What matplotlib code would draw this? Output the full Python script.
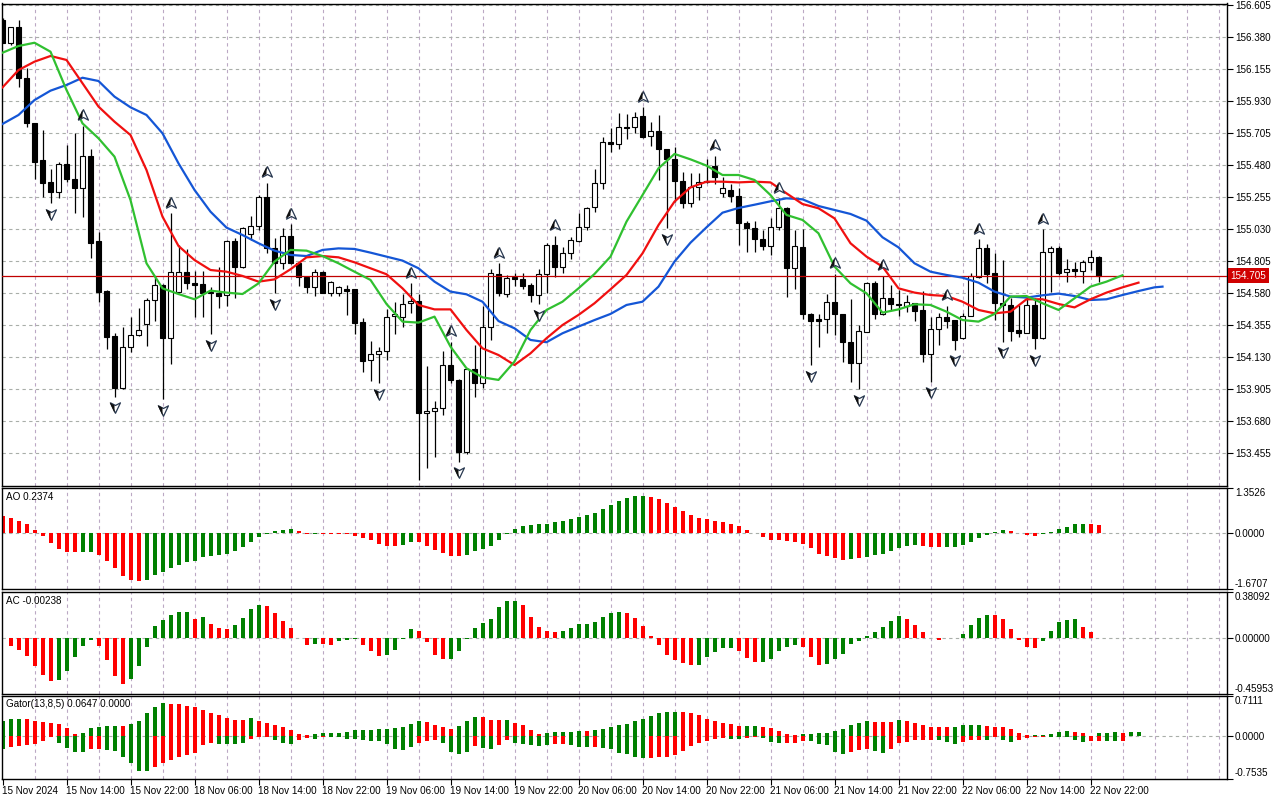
import matplotlib
matplotlib.use("Agg")
import matplotlib.pyplot as plt
import matplotlib.transforms as mtransforms
from matplotlib.path import Path

plt.rcParams['font.family'] = ['Liberation Sans', 'DejaVu Sans']
FS = 7.1

# ---------------- data ----------------
time_labels = ["15 Nov 2024", "15 Nov 14:00", "15 Nov 22:00", "18 Nov 06:00", "18 Nov 14:00",
               "18 Nov 22:00", "19 Nov 06:00", "19 Nov 14:00", "19 Nov 22:00", "20 Nov 06:00",
               "20 Nov 14:00", "20 Nov 22:00", "21 Nov 06:00", "21 Nov 14:00", "21 Nov 22:00",
               "22 Nov 06:00", "22 Nov 14:00", "22 Nov 22:00"]
label_bars = list(range(0, 137, 8))

opens = [156.502, 156.342, 156.450, 156.092, 155.775, 155.518, 155.360, 155.295, 155.487, 155.384,
         155.318, 155.546, 154.948, 154.596, 154.280, 153.912, 154.205, 154.287, 154.364, 154.533,
         154.639, 154.264, 154.587, 154.728, 154.650, 154.643, 154.589, 154.580, 154.568, 154.946,
         154.768, 154.995, 155.053, 155.260, 154.896, 154.791, 154.985, 154.791, 154.692, 154.622,
         154.732, 154.585, 154.580, 154.608, 154.608, 154.376, 154.111, 154.153, 154.174, 154.421,
         154.416, 154.510, 154.526, 153.741, 153.755, 153.771, 154.076, 153.971, 153.467, 154.046,
         153.952, 154.346, 154.716, 154.575, 154.692, 154.681, 154.639, 154.568, 154.714, 154.920,
         154.768, 154.861, 154.950, 155.049, 155.185, 155.353, 155.646, 155.630, 155.752, 155.752,
         155.829, 155.686, 155.724, 155.592, 155.522, 155.372, 155.213, 155.330, 155.360, 155.478,
         155.288, 155.307, 155.267, 155.072, 155.037, 154.960, 154.915, 155.049, 155.178, 154.756,
         154.903, 154.435, 154.397, 154.397, 154.521, 154.432, 154.240, 154.092, 154.310, 154.650,
         154.432, 154.545, 154.505, 154.493, 154.510, 154.463, 154.151, 154.327, 154.411, 154.392,
         154.264, 154.421, 154.697, 154.896, 154.721, 154.510, 154.498, 154.322, 154.303, 154.498,
         154.268, 154.868, 154.896, 154.728, 154.749, 154.737, 154.798, 154.833]
highs = [156.514, 156.455, 156.502, 156.162, 155.775, 155.728, 155.452, 155.501, 155.621, 155.710,
         155.757, 155.592, 155.009, 154.603, 154.303, 154.341, 154.416, 154.474, 154.549, 154.697,
         154.645, 155.142, 154.920, 154.892, 154.739, 154.737, 154.627, 154.768, 154.955, 154.967,
         155.049, 155.124, 155.271, 155.358, 154.971, 155.042, 155.067, 154.795, 154.695, 154.749,
         154.735, 154.667, 154.632, 154.639, 154.612, 154.404, 154.247, 154.205, 154.467, 154.517,
         154.575, 154.650, 154.573, 154.069, 153.823, 154.177, 154.240, 153.975, 154.053, 154.217,
         154.491, 154.749, 154.791, 154.709, 154.725, 154.721, 154.655, 154.749, 154.936, 154.983,
         154.908, 154.975, 155.142, 155.185, 155.454, 155.682, 155.745, 155.846, 155.841, 155.853,
         155.888, 155.782, 155.834, 155.595, 155.611, 155.431, 155.424, 155.424, 155.522, 155.546,
         155.400, 155.346, 155.318, 155.089, 155.089, 155.025, 155.107, 155.248, 155.189, 155.025,
         155.030, 154.439, 154.435, 154.575, 154.716, 154.435, 154.540, 154.357, 154.662, 154.669,
         154.702, 154.639, 154.603, 154.568, 154.512, 154.599, 154.411, 154.439, 154.491, 154.395,
         154.439, 154.725, 154.960, 154.927, 154.861, 154.814, 154.545, 154.498, 154.561, 154.545,
         155.030, 154.913, 154.913, 154.819, 154.803, 154.814, 154.885, 154.845]
lows = [156.338, 156.324, 156.028, 155.752, 155.382, 155.255, 155.213, 155.253, 155.365, 155.142,
        155.114, 154.831, 154.521, 154.186, 153.853, 153.905, 154.170, 154.280, 154.212, 154.385,
        153.835, 154.081, 154.580, 154.613, 154.411, 154.411, 154.292, 154.474, 154.491, 154.550,
        154.760, 154.955, 155.025, 154.861, 154.580, 154.749, 154.786, 154.634, 154.585, 154.564,
        154.580, 154.564, 154.564, 154.425, 154.292, 154.029, 153.966, 153.947, 154.111, 154.292,
        154.341, 154.439, 153.267, 153.350, 153.432, 153.724, 153.952, 153.396, 153.450, 153.849,
        153.912, 154.252, 154.564, 154.557, 154.632, 154.608, 154.521, 154.505, 154.580, 154.692,
        154.721, 154.819, 154.943, 155.025, 155.154, 155.314, 155.576, 155.592, 155.663, 155.705,
        155.675, 155.618, 155.377, 155.037, 155.220, 155.178, 155.189, 155.236, 155.353, 155.346,
        155.255, 155.225, 154.920, 154.873, 154.868, 154.885, 154.850, 155.025, 154.552, 154.608,
        154.397, 154.076, 154.205, 154.299, 154.287, 154.095, 153.959, 153.905, 154.306, 154.397,
        154.428, 154.463, 154.423, 154.451, 154.388, 154.100, 153.959, 154.217, 154.334, 154.182,
        154.260, 154.418, 154.685, 154.650, 154.392, 154.240, 154.247, 154.275, 154.299, 154.186,
        154.260, 154.587, 154.709, 154.662, 154.697, 154.655, 154.744, 154.662]
closes = [156.342, 156.450, 156.092, 155.775, 155.506, 155.358, 155.295, 155.487, 155.384, 155.323,
          155.546, 154.936, 154.592, 154.275, 153.917, 154.205, 154.287, 154.322, 154.533, 154.639,
          154.264, 154.728, 154.728, 154.650, 154.641, 154.585, 154.580, 154.564, 154.946, 154.768,
          155.042, 155.053, 155.260, 154.901, 154.791, 154.985, 154.791, 154.692, 154.622, 154.732,
          154.585, 154.662, 154.622, 154.599, 154.374, 154.107, 154.153, 154.174, 154.411, 154.435,
          154.505, 154.526, 153.741, 153.755, 153.774, 154.076, 153.971, 153.467, 154.046, 153.952,
          154.341, 154.721, 154.580, 154.690, 154.683, 154.634, 154.568, 154.714, 154.920, 154.763,
          154.861, 154.955, 155.044, 155.178, 155.358, 155.646, 155.630, 155.747, 155.745, 155.822,
          155.682, 155.724, 155.592, 155.522, 155.372, 155.213, 155.330, 155.365, 155.370, 155.396,
          155.318, 155.267, 155.072, 155.037, 154.960, 154.915, 155.049, 155.178, 154.756, 154.913,
          154.432, 154.388, 154.388, 154.521, 154.432, 154.240, 154.092, 154.315, 154.650, 154.432,
          154.545, 154.503, 154.500, 154.517, 154.458, 154.151, 154.327, 154.411, 154.388, 154.252,
          154.421, 154.702, 154.896, 154.716, 154.510, 154.500, 154.317, 154.303, 154.498, 154.264,
          154.868, 154.896, 154.721, 154.749, 154.737, 154.798, 154.833, 154.705]
current_price = 154.705

fractal_up = [10, 21, 33, 36, 51, 56, 62, 69, 80, 89, 97, 104, 110, 118, 122, 130]
fractal_down = [6, 14, 20, 26, 34, 47, 52, 57, 67, 83, 101, 107, 116, 119, 125, 129]

# Alligator (sampled every second bar, shifted lines run into the future)
jaw_bars = list(range(0, 145, 2)) + [145]
jaw = [155.771, 155.834, 155.939, 156.005, 156.045, 156.096, 156.073, 155.963, 155.888, 155.834,
       155.705, 155.494, 155.307, 155.154, 155.042, 154.990, 154.932, 154.880, 154.850, 154.842,
       154.885, 154.896, 154.892, 154.866, 154.838, 154.810, 154.756, 154.662, 154.592, 154.573,
       154.521, 154.385, 154.334, 154.252, 154.236, 154.299, 154.346, 154.392, 154.435, 154.498,
       154.521, 154.627, 154.803, 154.936, 155.044, 155.147, 155.180, 155.203, 155.227, 155.248,
       155.241, 155.194, 155.166, 155.138, 155.091, 154.974, 154.903, 154.791, 154.732, 154.709,
       154.690, 154.655, 154.592, 154.557, 154.550, 154.566, 154.578, 154.561, 154.533, 154.538,
       154.568, 154.596, 154.622, 154.627]
teeth_bars = list(range(0, 143, 2))
teeth = [156.028, 156.150, 156.209, 156.249, 156.221, 156.057, 155.893, 155.787, 155.693, 155.447,
         155.119, 154.913, 154.814, 154.744, 154.732, 154.702, 154.662, 154.678, 154.749, 154.833,
         154.842, 154.833, 154.798, 154.756, 154.714, 154.615, 154.498, 154.467, 154.467, 154.322,
         154.193, 154.146, 154.076, 154.158, 154.264, 154.357, 154.428, 154.510, 154.608, 154.709,
         154.861, 155.060, 155.225, 155.325, 155.365, 155.365, 155.360, 155.365, 155.360, 155.283,
         155.208, 155.178, 155.107, 154.932, 154.838, 154.768, 154.615, 154.585, 154.568, 154.561,
         154.521, 154.463, 154.439, 154.451, 154.538, 154.538, 154.505, 154.481, 154.538, 154.585,
         154.622, 154.655]
lips_bars = list(range(0, 141, 2))
lips = [156.272, 156.319, 156.342, 156.279, 156.010, 155.775, 155.670, 155.541, 155.236, 154.791,
        154.615, 154.575, 154.538, 154.599, 154.585, 154.575, 154.650, 154.803, 154.885, 154.880,
        154.842, 154.791, 154.732, 154.674, 154.505, 154.381, 154.374, 154.416, 154.205, 154.053,
        153.989, 153.971, 154.100, 154.322, 154.463, 154.521, 154.615, 154.716, 154.838, 155.084,
        155.271, 155.459, 155.560, 155.522, 155.478, 155.412, 155.412, 155.377, 155.271, 155.131,
        155.096, 155.002, 154.768, 154.650, 154.580, 154.444, 154.467, 154.503, 154.498, 154.451,
        154.392, 154.381, 154.435, 154.557, 154.561, 154.510, 154.463, 154.545, 154.627, 154.662,
        154.707]

ao = [0.517, 0.468, 0.378, 0.279, 0.109, -0.080, -0.279, -0.468, -0.557, -0.557,
      -0.557, -0.557, -0.647, -0.826, -1.025, -1.264, -1.393, -1.423, -1.393, -1.244,
      -1.144, -1.045, -0.945, -0.846, -0.826, -0.697, -0.677, -0.647, -0.617, -0.527,
      -0.408, -0.259, -0.100, -0.020, 0.070, 0.100, 0.129, 0.070, -0.010, -0.008,
      -0.015, -0.025, -0.030, -0.035, -0.080, -0.149, -0.199, -0.318, -0.378, -0.378,
      -0.348, -0.249, -0.259, -0.368, -0.488, -0.577, -0.677, -0.677, -0.637, -0.527,
      -0.458, -0.378, -0.199, -0.020, 0.129, 0.219, 0.249, 0.279, 0.279, 0.338,
      0.368, 0.428, 0.498, 0.557, 0.607, 0.726, 0.846, 0.965, 1.055, 1.114,
      1.114, 1.085, 1.025, 0.905, 0.786, 0.667, 0.547, 0.458, 0.428, 0.368,
      0.338, 0.279, 0.219, 0.100, 0.003, -0.100, -0.199, -0.199, -0.219, -0.269,
      -0.328, -0.438, -0.617, -0.677, -0.726, -0.786, -0.756, -0.746, -0.716, -0.647,
      -0.627, -0.517, -0.428, -0.368, -0.348, -0.388, -0.408, -0.408, -0.408, -0.408,
      -0.348, -0.249, -0.129, -0.040, 0.030, 0.100, 0.070, -0.003, -0.050, -0.070,
      -0.030, 0.030, 0.129, 0.189, 0.279, 0.285, 0.280, 0.2374]
ao_dir = ('r' * 10 + 'g' * 2 + 'r' * 6 + 'g' * 19 + 'r' * 2 + 'g' + 'r' * 10 + 'g' * 2 + 'r' * 6
          + 'g' * 23 + 'r' * 25 + 'g' + 'r' + 'g' * 7 + 'r' * 3 + 'g' * 8 + 'r' * 4 + 'g' * 6 + 'r' * 2)

ac = [0.0, -0.0634, -0.0964, -0.146, -0.229, -0.303, -0.358, -0.350, -0.275, -0.160,
      -0.0634, -0.0138, -0.0634, -0.185, -0.311, -0.377, -0.342, -0.229, -0.0716, 0.1019,
      0.1515, 0.1928, 0.212, 0.212, 0.160, 0.176, 0.118, 0.0826, 0.0771, 0.110,
      0.168, 0.242, 0.275, 0.267, 0.204, 0.143, 0.0826, -0.003, -0.055, -0.047,
      -0.047, -0.055, -0.0275, -0.0193, -0.011, -0.055, -0.105, -0.146, -0.138, -0.0964,
      -0.011, 0.0771, 0.055, -0.033, -0.143, -0.176, -0.176, -0.110, -0.008, 0.0854,
      0.121, 0.154, 0.259, 0.309, 0.309, 0.275, 0.176, 0.0937, 0.0606, 0.0523,
      0.0606, 0.0854, 0.118, 0.118, 0.135, 0.176, 0.209, 0.218, 0.209, 0.168,
      0.102, 0.019, -0.055, -0.138, -0.179, -0.204, -0.220, -0.220, -0.154, -0.113,
      -0.080, -0.080, -0.105, -0.163, -0.196, -0.196, -0.171, -0.105, -0.0716, -0.055,
      -0.0716, -0.154, -0.220, -0.212, -0.171, -0.129, -0.047, -0.022, 0.0138, 0.0523,
      0.0937, 0.143, 0.185, 0.160, 0.110, 0.0523, -0.003, -0.019, -0.003, -0.002,
      0.036, 0.110, 0.168, 0.193, 0.193, 0.160, 0.0771, -0.019, -0.077, -0.085,
      -0.0275, 0.0606, 0.135, 0.1515, 0.160, 0.0937, 0.0468, -0.00238]
ac_dir = ('r' * 7 + 'g' * 5 + 'r' * 4 + 'g' * 8 + 'r' + 'g' + 'r' * 3 + 'g' * 4 + 'r' * 6 + 'g'
          + 'r' * 2 + 'g' * 3 + 'r' * 3 + 'g' * 4 + 'r' * 4 + 'g' * 9 + 'r' * 5 + 'g' * 8 + 'r' * 9
          + 'g' * 5 + 'r' * 3 + 'g' * 5 + 'r' * 3 + 'g' * 10 + 'r' * 5 + 'g' * 6 + 'r' * 6 + 'g' * 5
          + 'r' * 3)

gator_up = [0.255, 0.295, 0.301, 0.298, 0.272, 0.243, 0.237, 0.214, 0.145, 0.040,
            0.046, 0.139, 0.156, 0.168, 0.174, 0.172, 0.203, 0.272, 0.400, 0.515,
            0.585, 0.573, 0.556, 0.521, 0.504, 0.463, 0.411, 0.371, 0.318, 0.290,
            0.288, 0.313, 0.272, 0.237, 0.191, 0.151, 0.098, 0.035, 0.017, 0.035,
            0.052, 0.052, 0.052, 0.069, 0.098, 0.098, 0.098, 0.122, 0.122, 0.139,
            0.162, 0.208, 0.255, 0.243, 0.197, 0.156, 0.116, 0.174, 0.261, 0.342,
            0.330, 0.278, 0.278, 0.280, 0.226, 0.197, 0.104, 0.035, 0.060, 0.064,
            0.064, 0.064, 0.087, 0.085, 0.110, 0.127, 0.156, 0.191, 0.203, 0.255,
            0.307, 0.359, 0.405, 0.428, 0.430, 0.425, 0.411, 0.376, 0.307, 0.272,
            0.220, 0.203, 0.168, 0.170, 0.172, 0.165, 0.133, 0.081, 0.029, 0.017,
            0.035, 0.036, 0.052, 0.053, 0.087, 0.116, 0.191, 0.237, 0.272, 0.243,
            0.240, 0.238, 0.290, 0.272, 0.220, 0.185, 0.151, 0.150, 0.149, 0.156,
            0.185, 0.191, 0.192, 0.168, 0.151, 0.150, 0.116, 0.052, 0.010, 0.017,
            0.018, 0.041, 0.064, 0.087, 0.070, 0.046, 0.005, 0.052, 0.053, 0.069,
            0.052, 0.062, 0.0647]
gator_up_dir = ('g' * 3 + 'r' * 7 + 'g' * 5 + 'r' + 'g' * 5 + 'r' * 10 + 'g' + 'r' * 7 + 'g' * 14
                + 'r' * 4 + 'g' * 3 + 'r' * 3 + 'g' + 'r' * 4 + 'g' * 5 + 'r' + 'g' * 11 + 'r' * 8
                + 'g' * 2 + 'r' * 5 + 'g' * 9 + 'r' * 3 + 'g' + 'r' * 6 + 'g' * 4 + 'r' * 6 + 'g' * 5
                + 'r' * 3 + 'g' * 3 + 'r' + 'g' * 2)
gator_low = [-0.226, -0.191, -0.174, -0.156, -0.139, -0.093, -0.017, -0.122, -0.208, -0.278,
             -0.278, -0.237, -0.226, -0.249, -0.261, -0.365, -0.486, -0.614, -0.625, -0.556,
             -0.481, -0.434, -0.376, -0.342, -0.295, -0.168, -0.122, -0.139, -0.139, -0.139,
             -0.122, -0.052, -0.017, -0.017, -0.069, -0.122, -0.139, -0.064, -0.035, -0.052,
             -0.017, -0.017, -0.023, -0.046, -0.052, -0.064, -0.087, -0.093, -0.151, -0.226,
             -0.243, -0.203, -0.122, -0.087, -0.064, -0.122, -0.278, -0.313, -0.278, -0.174,
             -0.208, -0.226, -0.156, -0.069, -0.122, -0.139, -0.156, -0.174, -0.156, -0.151,
             -0.139, -0.156, -0.191, -0.191, -0.191, -0.208, -0.237, -0.295, -0.324, -0.382,
             -0.394, -0.392, -0.376, -0.365, -0.342, -0.261, -0.179, -0.122, -0.087, -0.058,
             -0.035, -0.052, -0.053, -0.035, -0.017, -0.035, -0.104, -0.122, -0.120, -0.118,
             -0.087, -0.088, -0.151, -0.168, -0.278, -0.324, -0.278, -0.243, -0.226, -0.261,
             -0.295, -0.226, -0.133, -0.104, -0.075, -0.069, -0.068, -0.081, -0.104, -0.139,
             -0.116, -0.075, -0.064, -0.065, -0.017, -0.069, -0.104, -0.069, -0.035, -0.017,
             -0.012, -0.017, -0.020, -0.025, -0.069, -0.104, -0.087, -0.086, -0.087, -0.088,
             -0.087]
gator_low_dir = ('g' + 'r' * 6 + 'g' * 4 + 'r' * 2 + 'g' * 6 + 'r' * 8 + 'g' * 4 + 'r' * 3 + 'g' * 3
                 + 'r' * 2 + 'g' + 'r' + 'g' * 11 + 'r' * 3 + 'g' * 4 + 'r' + 'g' * 2 + 'r' * 2 + 'g' * 5
                 + 'r' * 2 + 'g' * 3 + 'r' + 'g' * 6 + 'r' * 10 + 'g' * 2 + 'r' * 2 + 'g' * 3 + 'r' * 3
                 + 'g' * 5 + 'r' * 3 + 'g' * 2 + 'r' * 6 + 'g' * 3 + 'r' * 3 + 'g' + 'r' + 'g' * 2
                 + 'r' * 4 + 'g' * 5 + 'r' * 2 + 'g' * 2 + 'r')

price_ticks = [153.455, 153.680, 153.905, 154.130, 154.355, 154.580, 154.805, 155.030,
               155.255, 155.480, 155.705, 155.930, 156.155, 156.380, 156.605]
ao_range = (-1.6707, 1.3526)
ac_range = (-0.45953, 0.38092)
gator_range = (-0.7535, 0.7111)

# ---------------- style ----------------
GREEN = '#008000'
RED = '#ff0000'
VGRID = '#bba8c4'
HGRID = '#a9aea9'
DASH = (0, (3, 3))
W, H = 1280, 800
XMIN, XMAX = -0.025, 153.1


def panel(top, bottom, left=2.3, right=1227.3):
    return [left / W, 1 - bottom / H, (right - left) / W, (bottom - top) / H]


def col(dirs, n):
    d = (dirs + dirs[-1:] * n)[:n]
    return [GREEN if ch == 'g' else RED for ch in d]


fig = plt.figure(figsize=(12.8, 8), dpi=100, facecolor='white')
ax = fig.add_axes(panel(3.5, 486))
ax_ao = fig.add_axes(panel(488, 589.3))
ax_ac = fig.add_axes(panel(592, 693.7))
ax_g = fig.add_axes(panel(695.7, 778.5))

for a in (ax, ax_ao, ax_ac, ax_g):
    a.set_xlim(XMIN, XMAX)
    for s in a.spines.values():
        s.set_linewidth(1.0)
        s.set_color('black')
    for xb in range(4, 153, 4):
        a.axvline(xb, color=VGRID, lw=0.8, ls=DASH, zorder=0)
    a.tick_params(axis='y', which='both', left=False, labelleft=False, right=True, labelright=True,
                  length=4, width=0.8, pad=1.5, labelsize=FS, direction='out')
    a.tick_params(axis='x', which='both', bottom=False, labelbottom=False, top=False)

# ---- main price panel ----
n = len(opens)
idx = list(range(n))
for p in price_ticks:
    ax.axhline(p, color=HGRID, lw=0.8, ls=DASH, zorder=0)
ax.vlines(idx, lows, highs, color='black', lw=0.9, zorder=2)
bottoms = [min(o, c) for o, c in zip(opens, closes)]
heights = [max(abs(c - o), 0.0012) for o, c in zip(opens, closes)]
faces = ['white' if c >= o else 'black' for o, c in zip(opens, closes)]
ax.bar(idx, heights, bottom=bottoms, width=0.58, color=faces, edgecolor='black', linewidth=0.8, zorder=3)

ax.axhline(current_price, color='#c00000', lw=0.9, zorder=4)
ax.plot(jaw_bars, jaw, color='#1456d6', lw=1.6, zorder=5, solid_joinstyle='round')
ax.plot(teeth_bars, teeth, color='#f01010', lw=1.6, zorder=5, solid_joinstyle='round')
ax.plot(lips_bars, lips, color='#30c030', lw=1.6, zorder=5, solid_joinstyle='round')

CODES = [Path.MOVETO, Path.LINETO, Path.LINETO, Path.LINETO, Path.CLOSEPOLY]
up_arrow = Path([(0, 1), (0.85, -0.8), (0, -0.35), (-0.85, -0.8), (0, 1)], CODES)
up_half = Path([(0, 1), (0, -0.35), (-0.85, -0.8), (0, 1)],
               [Path.MOVETO, Path.LINETO, Path.LINETO, Path.CLOSEPOLY])
down_arrow = Path([(0, -1), (0.85, 0.8), (0, 0.35), (-0.85, 0.8), (0, -1)], CODES)
down_half = Path([(0, -1), (0, 0.35), (-0.85, 0.8), (0, -1)],
                 [Path.MOVETO, Path.LINETO, Path.LINETO, Path.CLOSEPOLY])
GAP = 0.074
up_y = [highs[i] + GAP for i in fractal_up]
dn_y = [lows[i] - GAP for i in fractal_down]
ax.scatter(fractal_up, up_y, marker=up_arrow, s=70, c='white', edgecolors='#283850',
           linewidths=0.9, zorder=6)
ax.scatter(fractal_up, up_y, marker=up_half, s=70, c='#101010', edgecolors='none', zorder=7)
ax.scatter(fractal_down, dn_y, marker=down_arrow, s=70, c='white', edgecolors='#283850',
           linewidths=0.9, zorder=6)
ax.scatter(fractal_down, dn_y, marker=down_half, s=70, c='#101010', edgecolors='none', zorder=7)

ax.set_ylim(153.225, 156.618)
ax.set_yticks(price_ticks)
ax.set_yticklabels([f"{p:.3f}" for p in price_ticks])
trans = mtransforms.blended_transform_factory(ax.transAxes, ax.transData)
ax.text(1.0 + 3.0 / 1225, current_price, f"{current_price:.3f}", transform=trans, ha='left', va='center',
        fontsize=FS, color='white', zorder=10, clip_on=False,
        bbox=dict(boxstyle='square,pad=0.25', fc='#d00000', ec='none'))

# ---- oscillators ----
def osc(a, values, dirs, rng, fmt, title):
    a.bar(list(range(len(values))), values, width=0.5, color=col(dirs, len(values)), zorder=2)
    a.axhline(0, color=HGRID, lw=0.8, ls=DASH, zorder=1)
    a.set_ylim(*rng)
    a.set_yticks([rng[0], 0, rng[1]])
    a.set_yticklabels([fmt.format(rng[0]), fmt.format(0.0), fmt.format(rng[1])])
    labs = a.get_yticklabels()
    labs[0].set_verticalalignment('bottom')
    labs[-1].set_verticalalignment('top')
    a.text(4.0 / 1225, 0.965, title, transform=a.transAxes, ha='left', va='top', fontsize=FS)


osc(ax_ao, ao, ao_dir, ao_range, "{:.4f}", f"AO {ao[-1]:.4f}")
osc(ax_ac, ac, ac_dir, ac_range, "{:.5f}", f"AC {ac[-1]:.5f}")

ax_g.bar(list(range(len(gator_up))), gator_up, width=0.5, color=col(gator_up_dir, len(gator_up)), zorder=2)
ax_g.bar(list(range(len(gator_low))), gator_low, width=0.5, color=col(gator_low_dir, len(gator_low)), zorder=2)
ax_g.axhline(0, color=HGRID, lw=0.8, ls=DASH, zorder=1)
ax_g.set_ylim(*gator_range)
ax_g.set_yticks([gator_range[0], 0, gator_range[1]])
ax_g.set_yticklabels([f"{gator_range[0]:.4f}", "0.0000", f"{gator_range[1]:.4f}"])
gl = ax_g.get_yticklabels()
gl[0].set_verticalalignment('bottom')
gl[-1].set_verticalalignment('top')
ax_g.text(4.0 / 1225, 0.96, f"Gator(13,8,5) {gator_up[-1]:.4f} 0.0000", transform=ax_g.transAxes,
          ha='left', va='top', fontsize=FS)

ax_g.set_xticks(label_bars)
ax_g.set_xticklabels(time_labels, ha='left')
ax_g.tick_params(axis='x', bottom=True, labelbottom=True, length=4, width=0.8, pad=1.5,
                 labelsize=FS, direction='out')

fig.savefig('out.png', dpi=100, facecolor='white')
